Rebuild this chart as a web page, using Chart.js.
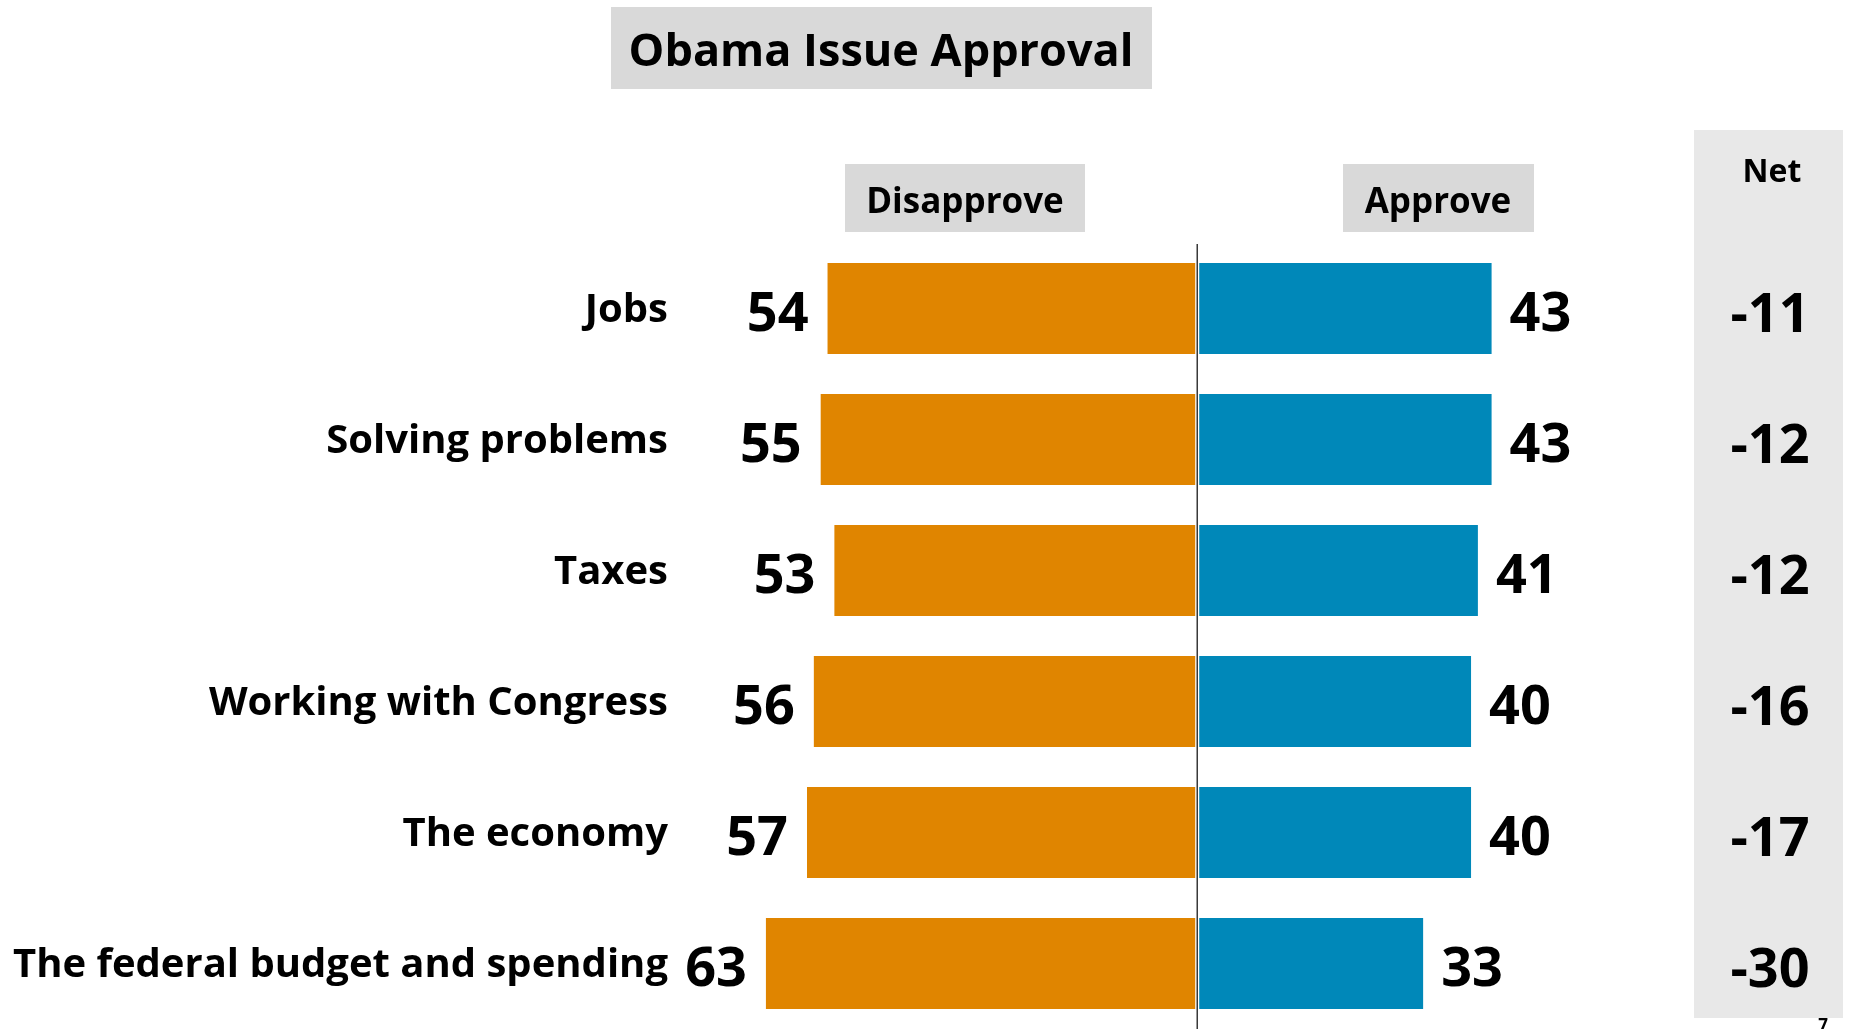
<!DOCTYPE html>
<html><head><meta charset="utf-8">
<script src="https://cdn.jsdelivr.net/npm/chart.js@4.4.0/dist/chart.umd.min.js"></script>
<style>html,body{margin:0;padding:0;background:#fff;overflow:hidden}canvas{display:block}</style>
</head><body>
<canvas id="c" width="1850" height="1029"></canvas>
<script>
const categories = ["Jobs", "Solving problems", "Taxes", "Working with Congress", "The economy", "The federal budget and spending"];
const disapprove = [54, 55, 53, 56, 57, 63];
const approve = [43, 43, 41, 40, 40, 33];
const net = [-11, -12, -12, -16, -17, -30];
const seriesNames = ["Disapprove", "Approve"];
const chartTitle = "Obama Issue Approval";
const netLabel = "Net";
const pageNumber = "7";

const ORANGE = '#E08500', BLUE = '#0088B9';
const FONT = '"Open Sans", Lato, sans-serif';

const decor = {
  id: 'decor',
  beforeDraw(chart) {
    const ctx = chart.ctx; ctx.save();
    ctx.fillStyle = '#fff'; ctx.fillRect(0, 0, chart.width, chart.height);
    ctx.fillStyle = '#D9D9D9';
    ctx.fillRect(611, 7, 541, 82);
    ctx.fillRect(845, 164, 240, 68);
    ctx.fillRect(1343, 164, 191, 68);
    ctx.fillStyle = '#E8E8E8';
    ctx.fillRect(1694, 130, 149, 888);
    ctx.fillStyle = '#000';
    ctx.textAlign = 'center'; ctx.textBaseline = 'alphabetic';
    ctx.font = 'bold 35px ' + FONT;
    ctx.fillText(seriesNames[0], 965, 213);
    ctx.fillText(seriesNames[1], 1438, 213);
    ctx.font = 'bold 32px ' + FONT;
    ctx.fillText(netLabel, 1772, 182);
    ctx.font = 'bold 17px ' + FONT;
    ctx.fillText(pageNumber, 1823, 1031);
    ctx.restore();
  },
  afterDatasetsDraw(chart) {
    const ctx = chart.ctx, area = chart.chartArea; ctx.save();
    const x0 = chart.scales.x.getPixelForValue(0);
    ctx.fillStyle = '#fff'; ctx.fillRect(x0 - 2, area.top, 4, chart.height - area.top);
    ctx.strokeStyle = '#1a1a1a'; ctx.lineWidth = 1.3;
    ctx.beginPath(); ctx.moveTo(x0, area.top + 1); ctx.lineTo(x0, chart.height); ctx.stroke();
    const m0 = chart.getDatasetMeta(0), m1 = chart.getDatasetMeta(1);
    ctx.fillStyle = '#000'; ctx.textBaseline = 'alphabetic';
    ctx.font = 'bold 54px ' + FONT;
    m0.data.forEach((b, i) => { ctx.textAlign = 'right'; ctx.fillText(String(disapprove[i]), b.x - 19, b.y + 22); });
    m1.data.forEach((b, i) => { ctx.textAlign = 'left'; ctx.fillText(String(approve[i]), b.x + 18, b.y + 22); });
    ctx.textAlign = 'center';
    m1.data.forEach((b, i) => { ctx.fillText(String(net[i]), 1770, b.y + 23); });
    ctx.restore();
  }
};

function make() {
  new Chart(document.getElementById('c'), {
    type: 'bar',
    data: {
      labels: categories,
      datasets: [
        { label: seriesNames[0], data: disapprove.map(v => -v), backgroundColor: ORANGE, borderWidth: 0, barPercentage: 0.695, categoryPercentage: 1 },
        { label: seriesNames[1], data: approve, backgroundColor: BLUE, borderWidth: 0, barPercentage: 0.695, categoryPercentage: 1 }
      ]
    },
    options: {
      responsive: false, animation: false, indexAxis: 'y',
      layout: { padding: { left: 0, right: 88, top: 0, bottom: -2 } },
      plugins: {
        legend: { display: false }, tooltip: { enabled: false },
        title: { display: true, text: chartTitle, color: '#000',
          font: { family: FONT, weight: 'bold', size: 45, lineHeight: 1.2 },
          padding: { top: 26, bottom: 163 } }
      },
      scales: {
        x: { type: 'linear', min: -70, max: 82.5, stacked: true, display: false },
        y: { stacked: true, grid: { display: false, drawTicks: false }, border: { display: false },
          ticks: { color: '#000', font: { family: FONT, weight: 'bold', size: 40 }, padding: 50, labelOffset: 2 },
          afterFit(s) { s.width = 718; s.paddingTop = 0; s.paddingBottom = 0; } }
      }
    },
    plugins: [decor]
  });
}
document.fonts.load('bold 40px "Open Sans"').then(make, make);
</script>
</body></html>
